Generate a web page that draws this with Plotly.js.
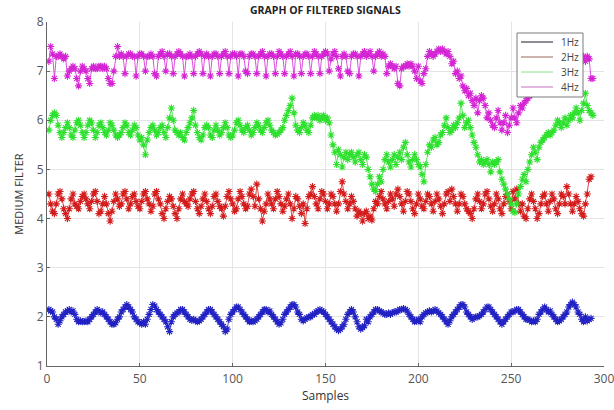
<!DOCTYPE html>
<html>
<head>
<meta charset="utf-8">
<script src="https://cdn.plot.ly/plotly-3.0.1.min.js"></script>
<style>html,body{margin:0;padding:0;background:#fff}#chart{width:614px;height:410px}</style>
</head>
<body>
<div id="chart"></div>
<script>
const seriesNames = ["1Hz", "2Hz", "3Hz", "4Hz"];

const hz1 = [2.15,2.12,2.1,2.0,1.95,1.85,1.92,2.0,2.05,2.1,
2.12,2.15,2.1,2.12,2.05,1.95,1.9,1.92,1.9,1.9,
1.92,1.9,1.95,2.0,2.05,2.1,2.15,2.12,2.08,2.1,
2.05,2.0,1.95,1.9,1.85,1.85,1.88,1.95,2.0,2.1,
2.15,2.2,2.25,2.2,2.15,2.1,2.0,1.95,1.9,1.88,
1.85,1.9,1.85,1.95,2.05,2.15,2.25,2.22,2.15,2.1,
2.05,2.0,1.95,1.9,1.8,1.7,1.9,2.0,2.05,2.08,
2.1,2.15,2.15,2.1,2.05,2.0,1.95,1.93,1.95,1.92,
1.9,1.92,1.95,2.0,2.05,2.1,2.15,2.15,2.1,2.05,
2.0,1.95,1.9,1.85,1.8,1.7,1.75,1.95,2.05,2.1,
2.15,2.2,2.2,2.15,2.1,2.05,2.0,1.95,1.9,1.92,
1.9,1.92,1.95,2.0,2.05,2.1,2.15,2.15,2.1,2.12,
2.05,2.0,1.95,1.9,1.85,1.88,1.95,2.05,2.1,2.15,
2.2,2.25,2.25,2.2,2.1,2.05,1.95,1.92,1.95,1.98,
2.0,2.0,2.05,2.05,2.1,2.12,2.15,2.12,2.1,2.05,
2.0,1.95,1.9,1.85,1.8,1.75,1.72,1.75,1.8,1.85,
1.95,2.05,2.1,2.15,2.1,2.0,1.9,1.8,1.75,1.78,
1.82,1.95,1.9,2.0,2.05,2.1,2.15,2.15,2.12,2.1,
2.08,2.05,2.05,2.08,2.05,2.08,2.1,2.1,2.12,2.15,
2.15,2.17,2.15,2.12,2.05,2.0,1.95,1.9,1.92,1.95,
1.9,2.0,2.05,2.08,2.1,2.12,2.1,2.12,2.15,2.12,
2.08,2.05,2.0,1.95,1.9,1.85,1.92,2.0,2.05,2.1,
2.15,2.2,2.25,2.25,2.2,2.1,2.05,2.0,1.95,1.98,
2.0,2.0,2.02,2.05,2.1,2.15,2.2,2.2,2.15,2.1,
2.05,2.0,1.95,1.9,1.85,1.9,1.95,2.0,2.05,2.1,
2.1,2.12,2.15,2.15,2.1,2.05,2.0,1.95,1.95,1.93,
1.9,1.92,1.9,1.95,2.05,2.1,2.15,2.2,2.15,2.1,
2.12,2.05,2.0,1.95,1.9,1.92,1.95,2.0,2.05,2.1,
2.2,2.25,2.3,2.25,2.2,2.1,2.05,1.95,1.9,2.0,
1.92,1.95,1.97];

const hz2 = [4.5,4.3,4.15,4.1,4.3,4.5,4.55,4.4,4.2,4.1,
4.0,4.2,4.4,4.5,4.3,4.25,4.2,4.35,4.45,4.5,
4.4,4.3,4.2,4.35,4.5,4.55,4.35,4.1,4.15,4.3,
4.45,4.3,4.1,3.95,4.15,4.35,4.5,4.4,4.25,4.3,
4.5,4.55,4.4,4.2,4.3,4.45,4.5,4.35,4.25,4.2,
4.35,4.5,4.55,4.4,4.3,4.15,4.25,4.5,4.55,4.4,
4.3,4.1,4.0,4.2,4.35,4.45,4.4,4.25,4.1,4.0,
4.2,4.4,4.5,4.35,4.3,4.25,4.4,4.5,4.55,4.35,
4.2,4.1,4.25,4.4,4.5,4.35,4.2,4.1,4.25,4.45,
4.5,4.35,4.25,4.2,4.05,4.25,4.45,4.55,4.4,4.3,
4.15,4.2,4.4,4.55,4.45,4.3,4.2,4.25,4.5,4.6,
4.45,4.25,4.7,4.4,4.2,3.95,4.15,4.3,4.5,4.4,
4.3,4.2,4.4,4.55,4.45,4.3,4.15,4.25,4.4,4.5,
4.3,4.0,4.2,4.45,4.4,4.25,4.1,4.3,3.9,4.2,
4.45,4.5,4.65,4.45,4.3,4.2,4.4,4.55,4.5,4.35,
4.2,4.3,4.5,4.45,4.3,4.15,4.3,4.55,4.75,4.5,
4.35,4.2,4.3,4.45,4.35,4.2,4.05,4.15,4.1,3.95,
4.1,4.15,4.0,4.05,3.97,4.2,4.35,4.3,4.45,4.55,
4.4,4.3,4.2,4.35,4.5,4.4,4.25,4.5,4.6,4.45,
4.3,4.15,4.35,4.55,4.5,4.35,4.2,4.1,4.3,4.5,
4.4,4.25,4.2,4.35,4.5,4.45,4.3,4.15,4.35,4.5,
4.4,4.25,4.1,4.3,4.5,4.55,4.35,4.6,4.45,4.3,
4.15,4.3,4.5,4.45,4.3,4.2,4.15,4.1,4.0,4.2,
4.4,4.5,4.35,4.2,4.3,4.5,4.55,4.4,4.25,4.15,
4.3,4.5,4.4,4.2,4.1,4.3,4.45,4.5,4.35,4.2,
4.55,4.4,4.6,4.3,4.15,4.3,4.05,4.0,4.2,4.4,
4.5,4.35,4.2,4.0,4.1,4.3,4.45,4.5,4.3,4.15,
4.35,4.5,4.4,4.2,4.1,4.3,4.5,4.45,4.3,4.65,
4.5,4.3,4.15,4.3,4.45,4.35,4.2,4.1,4.05,4.3,
4.5,4.8,4.85];

const hz3 = [5.8,6.0,6.1,6.15,6.1,5.9,5.75,5.65,5.75,5.85,
5.95,5.85,5.7,5.65,5.8,5.95,6.0,5.9,5.75,5.65,
5.75,5.9,6.0,5.95,5.8,5.65,5.75,5.9,5.95,5.85,
5.75,5.7,5.8,5.95,5.9,5.8,5.7,5.65,5.7,5.75,
5.85,5.95,5.9,5.75,5.7,5.8,5.9,5.85,5.7,5.6,
5.65,5.5,5.3,5.6,5.75,5.85,5.9,5.8,5.7,5.75,
5.85,5.9,5.75,5.65,5.85,6.05,6.25,6.0,5.8,5.75,
5.7,5.75,5.65,5.6,5.75,5.85,5.95,6.05,6.2,5.9,
5.75,5.65,5.6,5.7,5.85,5.9,5.85,5.7,5.65,5.8,
5.9,5.8,5.7,5.75,5.85,5.95,5.85,5.7,5.65,5.7,
5.8,5.95,6.0,5.9,5.8,5.75,5.85,5.9,5.8,5.7,
5.75,5.85,5.95,5.9,5.8,5.75,5.85,5.95,6.0,5.9,
5.8,5.75,5.7,5.72,5.75,5.8,5.85,6.0,6.1,6.2,
6.3,6.45,6.15,5.9,5.8,5.75,5.85,5.95,5.9,5.8,
5.75,5.9,6.05,6.1,6.05,6.1,6.0,6.05,6.1,6.0,
6.05,5.95,5.7,5.5,5.35,5.1,5.4,5.3,5.05,5.25,
5.35,5.2,5.3,5.35,5.25,5.15,5.3,5.35,5.2,5.1,
5.3,5.25,5.0,4.85,4.7,4.6,4.55,4.7,4.85,4.75,
5.0,5.2,5.3,5.15,5.05,5.2,5.3,5.1,5.25,5.35,
5.2,5.45,5.55,5.3,5.15,5.05,5.2,5.3,5.2,5.1,
5.05,4.9,4.75,5.1,5.35,5.5,5.45,5.6,5.65,5.5,
5.55,5.7,5.75,5.9,6.05,5.85,5.75,5.8,5.9,5.85,
5.95,6.05,6.35,6.1,5.85,5.95,6.0,5.85,5.7,5.55,
5.45,5.3,5.15,5.2,5.1,5.15,5.2,5.1,4.95,5.15,
5.1,5.15,5.2,4.95,4.8,4.7,4.6,4.5,4.4,4.3,
4.15,4.12,4.3,4.5,4.65,4.8,4.9,4.75,5.0,5.15,
5.3,5.45,5.35,5.2,5.45,5.55,5.6,5.65,5.7,5.75,
5.7,5.75,5.8,5.9,6.0,5.95,5.85,5.95,6.05,5.9,
6.0,6.1,6.05,6.15,6.25,6.15,6.0,6.2,6.35,6.55,
6.3,6.2,6.15,6.1];

const hz4 = [7.2,7.5,7.35,6.85,7.3,7.3,7.35,7.3,7.25,7.3,
6.9,7.0,7.05,7.1,7.05,6.85,6.7,7.0,7.1,7.05,
7.0,6.85,6.75,7.05,7.1,7.05,7.05,7.1,7.1,7.05,
7.1,7.05,6.85,6.75,6.75,7.0,7.3,7.5,7.3,7.35,
7.3,6.95,7.3,7.35,7.35,7.3,7.3,6.9,7.3,7.35,
7.35,7.3,7.0,7.3,7.3,7.35,7.3,6.95,6.9,7.3,
7.35,7.4,7.3,7.0,7.35,7.35,7.3,6.95,7.3,7.35,
7.4,7.35,7.3,6.9,7.3,7.3,7.35,7.3,6.95,7.3,
7.35,7.4,7.35,6.95,7.3,7.35,7.3,6.9,7.3,7.35,
7.35,7.3,6.95,7.3,7.35,7.4,7.3,6.95,7.3,7.35,
7.35,7.3,6.9,7.35,7.35,7.3,7.0,6.95,7.3,7.35,
7.35,7.3,6.95,7.3,7.35,7.4,7.3,6.9,7.3,7.35,
7.35,7.3,6.95,7.3,7.4,7.35,7.3,6.95,7.3,7.35,
7.4,7.3,6.9,7.35,7.35,7.3,6.95,7.3,7.35,7.35,
7.3,6.95,7.3,7.4,7.35,7.3,6.95,7.3,7.35,7.4,
7.35,7.0,7.25,7.35,7.4,7.3,7.05,6.9,7.3,7.35,
7.3,7.0,6.95,7.3,7.35,7.35,7.3,6.9,7.3,7.35,
7.4,7.3,7.35,7.4,7.3,7.0,7.3,7.35,7.4,7.3,
7.35,7.3,6.95,7.1,7.15,7.1,7.05,7.1,6.75,6.7,
7.05,7.1,7.1,7.15,7.1,7.15,7.1,7.0,6.85,7.1,
6.8,6.75,6.95,7.05,7.3,7.4,7.35,7.3,7.35,7.4,
7.45,7.4,7.45,7.4,7.35,7.4,7.3,7.15,7.2,6.95,
7.0,6.85,6.9,6.7,6.6,6.65,6.5,6.55,6.4,6.3,
6.45,6.15,6.4,6.5,6.45,6.3,6.05,6.15,6.0,5.9,
5.85,6.05,6.2,5.95,5.8,5.95,6.1,5.75,5.9,6.05,
6.25,6.05,5.95,6.15,6.3,6.25,6.35,6.4,6.45,6.5,
6.6,6.7,6.8,6.85,6.95,7.0,7.05,7.1,7.1,7.15,
7.15,7.2,7.2,7.25,7.2,7.25,7.2,7.25,7.3,7.25,
7.2,7.25,7.3,7.2,7.25,7.2,7.15,7.25,7.3,7.2,
7.3,7.25,6.85,6.85];

const markerColors = ["#2222c4", "#d41c1c", "#2ee02e", "#d424d4"];
const legendColors = ["#1a1a2e", "#9a6a5a", "#8fe08f", "#c070c0"];

const allSeries = [hz1, hz2, hz3, hz4];
const traces = [];
allSeries.forEach((vals, k) => {
  const xs = vals.map((v, i) => i + 1);
  traces.push({
    x: xs, y: vals, type: "scatter", mode: "lines+markers",
    name: seriesNames[k], showlegend: false, hoverinfo: "skip",
    line: {color: markerColors[k], width: 0.8},
    marker: {symbol: "asterisk-open", size: 6, color: markerColors[k],
             line: {width: 1.1, color: markerColors[k]}}
  });
});

// Plot area in pixels (for placing the legend box)
const plotL = 47, plotR = 604, plotT = 22, plotB = 366;
const px2x = p => (p - plotL) / (plotR - plotL);
const px2y = p => (plotB - p) / (plotB - plotT);

const fontFam = "Open Sans, Liberation Sans, sans-serif";
const shapes = [{
  type: "rect", xref: "paper", yref: "paper", layer: "above",
  x0: px2x(517), x1: px2x(583), y0: px2y(97), y1: px2y(33),
  fillcolor: "#ffffff", line: {color: "#7a7a7a", width: 1}
}];
const annotations = [];
const legendRows = [42, 57, 72, 87];
seriesNames.forEach((n, k) => {
  shapes.push({
    type: "line", xref: "paper", yref: "paper", layer: "above",
    x0: px2x(521), x1: px2x(553), y0: px2y(legendRows[k]), y1: px2y(legendRows[k]),
    line: {color: legendColors[k], width: 1}
  });
  annotations.push({
    text: n, xref: "paper", yref: "paper", showarrow: false,
    x: px2x(581), y: px2y(legendRows[k]), xanchor: "right", yanchor: "middle",
    font: {family: fontFam, size: 10, color: "#444"}
  });
});

const axisFont = {family: fontFam, size: 12, color: "#555"};
const layout = {
  width: 614, height: 410,
  margin: {l: plotL, r: 614 - plotR, t: plotT, b: 410 - plotB},
  paper_bgcolor: "#fff", plot_bgcolor: "#fff",
  showlegend: false,
  title: {text: "<b>GRAPH OF FILTERED SIGNALS</b>", x: 0.53, xanchor: "center",
          y: 0.976, yanchor: "middle",
          font: {family: fontFam, size: 10.5, color: "#222"}},
  xaxis: {range: [0, 300], tick0: 0, dtick: 50, showgrid: true, gridcolor: "#e4e4e4",
          zeroline: false, showline: true, linecolor: "#666", linewidth: 1,
          ticks: "inside", ticklen: 3, tickcolor: "#666", tickfont: axisFont,
          ticklabelstandoff: 2, ticklabeloverflow: "allow",
          title: {text: "Samples", standoff: 4, font: {family: fontFam, size: 12, color: "#333"}}},
  yaxis: {range: [1, 8], tick0: 1, dtick: 1, showgrid: true, gridcolor: "#e4e4e4",
          zeroline: false, showline: true, linecolor: "#666", linewidth: 1,
          ticks: "inside", ticklen: 3, tickcolor: "#666", tickfont: axisFont,
          ticklabeloverflow: "allow",
          title: {text: "MEDIUM FILTER", standoff: 10, font: {family: fontFam, size: 11, color: "#333"}}},
  shapes: shapes,
  annotations: annotations
};

Plotly.newPlot("chart", traces, layout, {displayModeBar: false, staticPlot: true});
</script>
</body>
</html>
